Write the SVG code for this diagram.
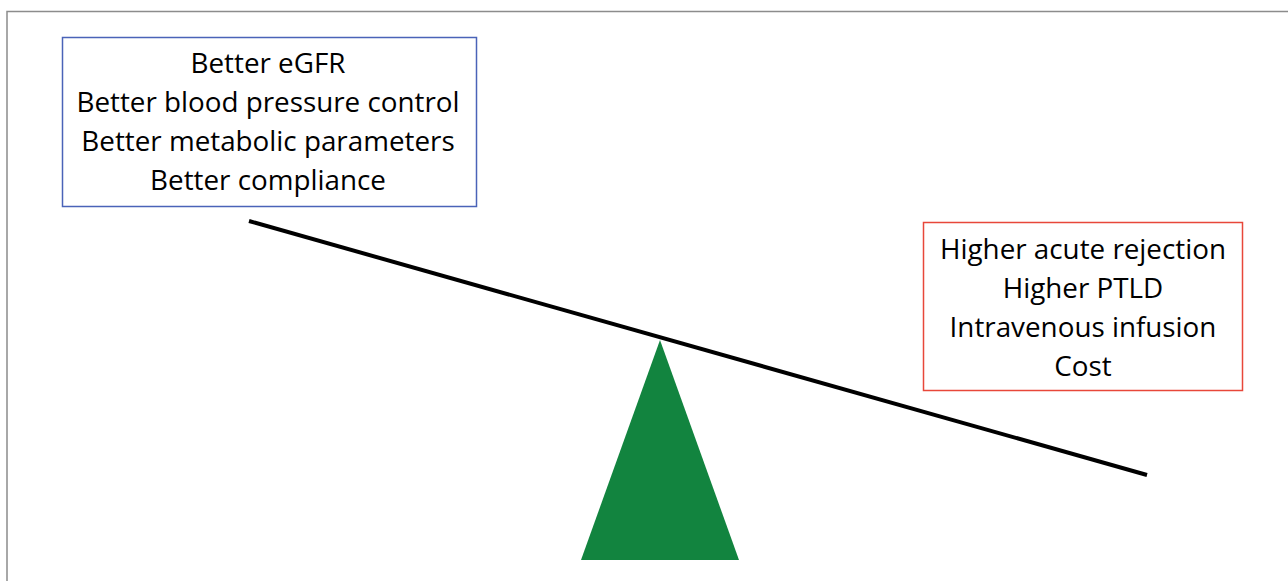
<svg xmlns="http://www.w3.org/2000/svg" width="1288" height="581" viewBox="0 0 1288 581">
  <style>
    .box { fill: #ffffff; stroke-width: 1.5; }
    .lbl { font-family: "Open Sans", "Noto Sans", sans-serif; font-size: 27.8px; fill: #000000; text-anchor: middle; }
  </style>
  <rect width="1288" height="581" fill="#ffffff"/>
  <!-- outer frame -->
  <rect x="7" y="11.5" width="1300" height="600" fill="none" stroke="#8c8c8c" stroke-width="1.5"/>

  <g id="connectors">
    <!-- lever beam -->
    <line x1="249" y1="221" x2="1147" y2="475" stroke="#000000" stroke-width="4" stroke-linecap="butt"/>
  </g>

  <g id="fulcrum">
    <polygon points="660,340 581,560 739,560" fill="#12843f"/>
  </g>

  <g id="benefits">
    <rect class="box" x="62.5" y="37.5" width="414" height="169" stroke="#4a63b8"/>
    <text class="lbl" x="268" y="73">Better eGFR</text>
    <text class="lbl" x="268" y="112">Better blood pressure control</text>
    <text class="lbl" x="268" y="151">Better metabolic parameters</text>
    <text class="lbl" x="268" y="190">Better compliance</text>
  </g>

  <g id="drawbacks">
    <rect class="box" x="923.5" y="222.5" width="319" height="168" stroke="#e8473a"/>
    <text class="lbl" x="1083" y="259">Higher acute rejection</text>
    <text class="lbl" x="1083" y="298">Higher PTLD</text>
    <text class="lbl" x="1083" y="337">Intravenous infusion</text>
    <text class="lbl" x="1083" y="376">Cost</text>
  </g>
</svg>
